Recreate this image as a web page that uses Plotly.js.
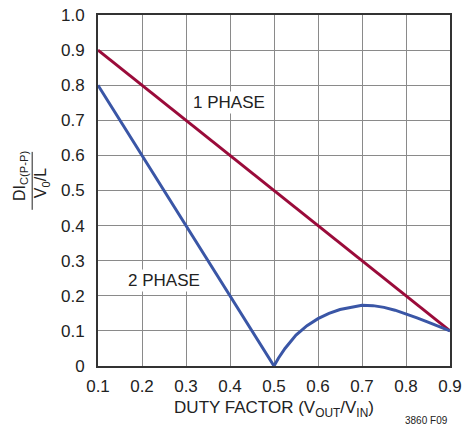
<!DOCTYPE html>
<html>
<head>
<meta charset="utf-8">
<script src="https://cdn.plot.ly/plotly-3.0.1.min.js"></script>
<style>html,body{margin:0;padding:0;background:#fff;}#chart{width:465px;height:430px;}</style>
</head>
<body>
<div id="chart"></div>
<script>
const onePhaseX = [0.1, 0.9];
const onePhaseY = [0.9, 0.1];
const twoPhaseX = [0.1, 0.5, 0.51, 0.525, 0.55, 0.575, 0.6, 0.625, 0.65, 0.675, 0.7, 0.725, 0.75, 0.775, 0.8, 0.825, 0.85, 0.875, 0.9];
const twoPhaseY = [0.8, 0.0, 0.022, 0.05, 0.088, 0.115, 0.135, 0.15, 0.161, 0.168, 0.173, 0.172, 0.167, 0.159, 0.149, 0.137, 0.125, 0.113, 0.1];
const xTicks = [0.1, 0.2, 0.3, 0.4, 0.5, 0.6, 0.7, 0.8, 0.9];
const yTicks = [0, 0.1, 0.2, 0.3, 0.4, 0.5, 0.6, 0.7, 0.8, 0.9, 1.0];
const yTickText = ['0', '0.1', '0.2', '0.3', '0.4', '0.5', '0.6', '0.7', '0.8', '0.9', '1.0'];

const FONT = '"Liberation Sans Narrow", "Arial Narrow", "Liberation Sans", sans-serif';
const data = [
  {x: onePhaseX, y: onePhaseY, mode: 'lines', line: {color: '#9a0b3a', width: 3}, hoverinfo: 'skip'},
  {x: twoPhaseX, y: twoPhaseY, mode: 'lines', line: {color: '#3a56a6', width: 3}, hoverinfo: 'skip'}
];
const layout = {
  width: 465, height: 430,
  margin: {l: 98, r: 15, t: 15, b: 64},
  showlegend: false,
  paper_bgcolor: '#fff', plot_bgcolor: '#fff',
  font: {family: FONT, size: 16, color: '#222'},
  xaxis: {
    range: [0.1, 0.9], tickvals: xTicks, ticktext: xTicks.map(v => v.toFixed(1)),
    showgrid: true, gridcolor: '#8a8a8a', gridwidth: 1, zeroline: false,
    showline: true, mirror: true, linecolor: '#333', linewidth: 2,
    ticks: '', ticklabelstandoff: 4,
    tickfont: {family: FONT, size: 17, color: '#222'},
    title: {text: 'DUTY FACTOR (V<sub>OUT</sub>/V<sub>IN</sub>)', font: {family: FONT, size: 17, color: '#222'}, standoff: 6}
  },
  yaxis: {
    range: [0, 1.0], tickvals: yTicks, ticktext: yTickText,
    showgrid: true, gridcolor: '#8a8a8a', gridwidth: 1, zeroline: false,
    showline: true, mirror: true, linecolor: '#333', linewidth: 2,
    ticks: '', ticklabelstandoff: 8,
    tickfont: {family: FONT, size: 17, color: '#222'}
  },
  annotations: [
    {x: 0.398, y: 0.75, xref: 'x', yref: 'y', text: '1 PHASE', showarrow: false, bgcolor: '#fff', font: {family: FONT, size: 17, color: '#222'}},
    {x: 0.25, y: 0.245, xref: 'x', yref: 'y', text: '2 PHASE', showarrow: false, bgcolor: '#fff', font: {family: FONT, size: 17, color: '#222'}},
    {x: -0.22, y: 0.54, xref: 'paper', yref: 'paper', text: 'DI<sub>C(P-P)</sub>', textangle: -90, showarrow: false, xanchor: 'center', yanchor: 'middle', font: {family: FONT, size: 16, color: '#222'}},
    {x: -0.16, y: 0.52, xref: 'paper', yref: 'paper', text: 'V<sub>0</sub>/L', textangle: -90, showarrow: false, xanchor: 'center', yanchor: 'middle', font: {family: FONT, size: 16, color: '#222'}},
    {x: 1.0, y: -0.155, xref: 'paper', yref: 'paper', text: '3860 F09', showarrow: false, xanchor: 'right', yanchor: 'middle', font: {family: FONT, size: 10, color: '#222'}}
  ],
  shapes: [
    {type: 'line', xref: 'paper', yref: 'paper', x0: -0.187, x1: -0.187, y0: 0.445, y1: 0.61, line: {color: '#222', width: 1}}
  ]
};
Plotly.newPlot('chart', data, layout, {staticPlot: true});
</script>
</body>
</html>
